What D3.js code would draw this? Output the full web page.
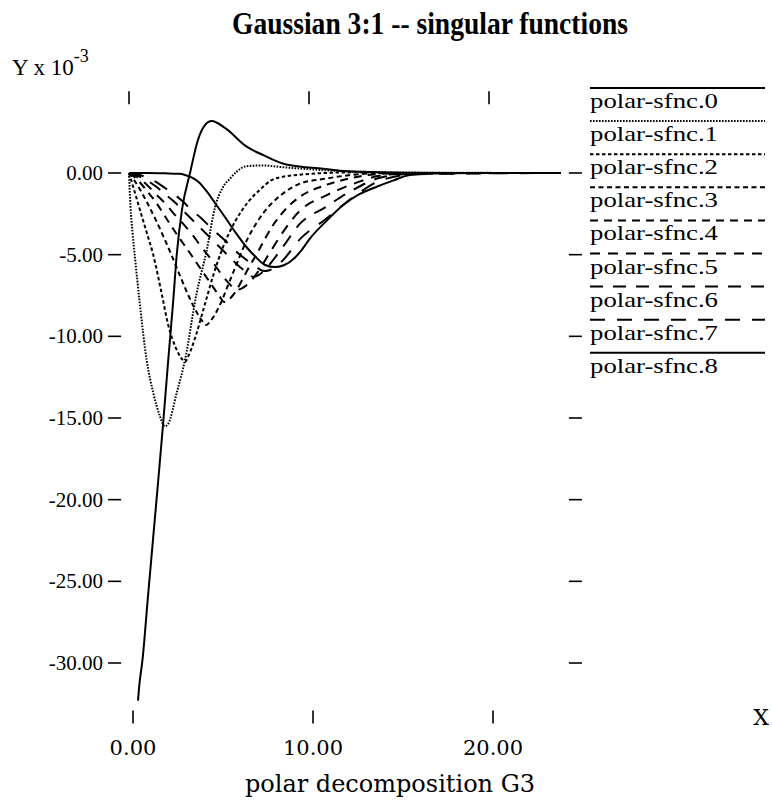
<!DOCTYPE html>
<html lang="en">
<head>
<meta charset="UTF-8">
<title>Gaussian 3:1 -- singular functions</title>
<style>
  body { margin: 0; background: #ffffff; }
  svg { display: block; }
  .curve { fill: none; stroke: #000; stroke-width: 2px; }
  .tick { stroke: #000; stroke-width: 1.6px; }
  .serif { font-family: 'Liberation Serif', 'Times New Roman', serif; fill: #000; }
  .cm { font-family: 'DejaVu Serif', serif; fill: #000; }
</style>
</head>
<body>
<script src="https://d3js.org/d3.v7.min.js"></script>
<script>
// tick values and labels
const xTicks = [0, 10, 20];
const xTickLabels = ["0.00", "10.00", "20.00"];
const yTicks = [0, -5, -10, -15, -20, -25, -30];
const yTickLabels = ["0.00", "-5.00", "-10.00", "-15.00", "-20.00", "-25.00", "-30.00"];

// series names (legend order)
const seriesNames = ["polar-sfnc.0", "polar-sfnc.1", "polar-sfnc.2", "polar-sfnc.3",
  "polar-sfnc.4", "polar-sfnc.5", "polar-sfnc.6", "polar-sfnc.7", "polar-sfnc.8"];

// values (Y in units of 1e-3)
const x0 = [0.5, 0.56, 0.76, 1.04, 1.53, 1.88, 2.18, 2.46, 2.65, 2.94, 3.39, 3.83, 4.2, 4.59, 5.33, 6.54, 7.56, 8.5, 9.67, 10.9, 11.72, 13, 15, 18, 24];
const y0 = [-32.3, -31.5, -29.7, -26.1, -20.0, -15.55, -11.45, -7.78, -5.02, -2.27, 0, 2.02, 2.9, 3.18, 2.76, 1.61, 1.05, 0.6, 0.37, 0.25, 0.14, 0.07, 0.02, 0, 0];

const x1 = [0, 0.08, 0.2, 0.33, 0.6, 0.98, 1.35, 1.72, 1.93, 2.0, 2.18, 2.65, 3.11, 3.76, 4.32, 4.78, 5.2, 5.61, 6.0, 6.54, 7.4, 8.5, 9.67, 10.9, 12.5, 15, 24];
const y1 = [0, -2.0, -3.7, -5.14, -8.0, -11.45, -13.47, -14.9, -15.45, -15.5, -15.35, -13.47, -11.45, -7.35, -4.72, -2.1, -0.9, -0.35, 0.1, 0.42, 0.46, 0.36, 0.26, 0.17, 0.09, 0.03, 0];

const x2 = [0, 0.3, 0.7, 1.0, 1.35, 1.8, 2.18, 2.6, 2.95, 3.11, 3.3, 3.7, 4.2, 4.7, 5.2, 5.89, 6.6, 7.3, 7.93, 8.7, 9.5, 10.9, 12.5, 14, 17, 24];
const y2 = [0, -1.1, -2.6, -3.7, -5.02, -7.3, -9.31, -10.7, -11.4, -11.56, -11.2, -10.0, -8.1, -6.2, -4.6, -2.98, -1.8, -1.0, -0.43, -0.2, -0.1, 0, 0.04, 0.02, 0, 0];

const x3 = [0, 0.5, 1.0, 1.5, 2.0, 2.37, 2.8, 3.3, 3.8, 4.1, 4.3, 4.5, 5.0, 5.6, 6.6, 7.5, 8.5, 9.5, 10.9, 12.5, 14, 17, 24];
const y3 = [0, -0.8, -1.8, -2.9, -4.1, -5.05, -6.2, -7.5, -8.6, -9.1, -9.3, -9.1, -8.2, -6.6, -4.0, -2.4, -1.3, -0.65, -0.35, -0.1, 0, 0, 0];

const x4 = [0, 0.5, 1.0, 1.5, 2.0, 2.5, 3.0, 3.48, 4.0, 4.5, 5.0, 5.3, 5.8, 6.5, 7.17, 8.0, 8.8, 9.5, 10.9, 12.5, 14, 17, 24];
const y4 = [0, -0.45, -1.1, -1.8, -2.65, -3.5, -4.3, -5.05, -5.9, -6.7, -7.5, -7.9, -7.45, -6.1, -4.8, -3.2, -2.1, -1.45, -0.75, -0.28, -0.05, 0, 0];

const x5 = [0, 0.5, 1.0, 1.5, 2.0, 2.5, 3.0, 3.5, 4.0, 4.5, 5.0, 5.5, 6.0, 6.3, 7.0, 7.73, 8.5, 9.5, 10.9, 12.5, 14, 16, 24];
const y5 = [0, -0.28, -0.73, -1.3, -1.85, -2.5, -3.1, -3.75, -4.5, -5.2, -6.0, -6.7, -7.15, -7.05, -6.3, -5.05, -3.7, -2.3, -1.4, -0.65, -0.15, 0, 0];

const x6 = [0, 0.5, 1.0, 1.5, 2.0, 2.5, 3.0, 3.5, 4.0, 4.5, 5.0, 5.5, 6.0, 6.5, 6.9, 7.2, 7.73, 8.5, 9.5, 10.9, 12.5, 14, 16, 24];
const y6 = [0, -0.18, -0.46, -0.83, -1.3, -1.75, -2.3, -2.85, -3.4, -3.95, -4.5, -5.05, -5.6, -6.05, -6.35, -6.25, -5.7, -4.6, -3.1, -2.1, -1.0, -0.28, -0.03, 0];

const x7 = [0, 0.5, 1.0, 1.5, 2.0, 2.5, 3.0, 3.5, 4.0, 4.5, 5.0, 5.5, 6.0, 6.5, 7.0, 7.5, 7.8, 8.5, 9.5, 10.9, 12.5, 14, 16, 24];
const y7 = [0, -0.09, -0.28, -0.55, -0.92, -1.3, -1.75, -2.3, -2.75, -3.3, -3.8, -4.3, -4.85, -5.3, -5.7, -6.0, -5.95, -5.4, -4.05, -2.85, -1.45, -0.45, -0.07, 0];

const x8 = [0, 1, 2, 2.8, 3.11, 3.5, 3.85, 4.3, 4.78, 5.3, 5.89, 6.5, 7.0, 7.56, 8.11, 8.6, 9.2, 9.6, 10.06, 11.0, 11.9, 12.8, 13.76, 14.7, 15.6, 17, 19, 24];
const y8 = [0, 0, -0.02, -0.05, -0.12, -0.28, -0.53, -1.1, -1.84, -2.65, -3.6, -4.5, -5.1, -5.63, -5.76, -5.65, -5.2, -4.7, -4.0, -2.9, -1.96, -1.3, -0.84, -0.45, -0.12, -0.03, 0, 0];

const seriesX = [x0, x1, x2, x3, x4, x5, x6, x7, x8];
const seriesY = [y0, y1, y2, y3, y4, y5, y6, y7, y8];

// line styles, one per series
const dashes = ["none", "1.6,1.4", "3.5,2.5", "5,3.5", "8,6", "10,8", "13,10", "15,12", "none"];

const width = 772, height = 801;
const svg = d3.select("body").append("svg")
  .attr("width", width).attr("height", height);

const x = d3.scaleLinear().domain([0, 20]).range([129, 489]);
const y = d3.scaleLinear().domain([0, -30]).range([173, 663]);

// frame limits where the ticks sit
const frameLeft = x(-0.8), frameRight = x(24.8);
const frameTop = y(4.6), frameBottom = y(-33.3);
const tl = 6.5;

// title
svg.append("text").attr("class", "serif")
  .attr("x", 430).attr("y", 34)
  .attr("text-anchor", "middle")
  .attr("font-size", 31).attr("font-weight", "bold")
  .attr("textLength", 396).attr("lengthAdjust", "spacingAndGlyphs")
  .text("Gaussian 3:1 -- singular functions");

// y axis label
const yl = svg.append("text").attr("class", "serif")
  .attr("x", 12).attr("y", 75).attr("font-size", 23);
yl.append("tspan").text("Y x 10");
yl.append("tspan").attr("dy", -13).attr("font-size", 18).text("-3");

// left and right ticks
svg.selectAll(".ytl").data(yTicks).enter().append("line")
  .attr("class", "tick")
  .attr("x1", frameLeft - tl).attr("x2", frameLeft + tl)
  .attr("y1", d => y(d)).attr("y2", d => y(d));
svg.selectAll(".ytr").data(yTicks).enter().append("line")
  .attr("class", "tick")
  .attr("x1", frameRight - tl).attr("x2", frameRight + tl)
  .attr("y1", d => y(d)).attr("y2", d => y(d));
svg.selectAll(".ylab").data(yTicks).enter().append("text")
  .attr("class", "serif")
  .attr("x", frameLeft - tl - 5).attr("y", d => y(d) + 7)
  .attr("text-anchor", "end").attr("font-size", 21)
  .text((d, i) => yTickLabels[i]);

// top and bottom ticks
svg.selectAll(".xtt").data(xTicks).enter().append("line")
  .attr("class", "tick")
  .attr("x1", d => x(d)).attr("x2", d => x(d))
  .attr("y1", frameTop - tl).attr("y2", frameTop + tl);
svg.selectAll(".xtb").data(xTicks).enter().append("line")
  .attr("class", "tick")
  .attr("x1", d => x(d) + 4).attr("x2", d => x(d) + 4)
  .attr("y1", frameBottom - tl).attr("y2", frameBottom + tl);
svg.selectAll(".xlab").data(xTicks).enter().append("text")
  .attr("class", "cm")
  .attr("x", d => x(d) + 4).attr("y", frameBottom + 38)
  .attr("text-anchor", "middle").attr("font-size", 21)
  .text((d, i) => xTickLabels[i]);

svg.append("text").attr("class", "cm")
  .attr("x", 761).attr("y", frameBottom + 8)
  .attr("text-anchor", "middle").attr("font-size", 22)
  .text("X");

svg.append("text").attr("class", "cm")
  .attr("x", 390).attr("y", 792)
  .attr("text-anchor", "middle").attr("font-size", 24)
  .text("polar decomposition G3");

// curves
const line = d3.line()
  .x(d => x(d[0])).y(d => y(d[1]))
  .curve(d3.curveMonotoneX);

seriesX.forEach((xs, k) => {
  const pts = xs.map((v, i) => [v, seriesY[k][i]]);
  svg.append("path").attr("class", "curve")
    .attr("d", line(pts))
    .attr("stroke-dasharray", dashes[k]);
});

// legend
const legX1 = 590, legX2 = 765, legY0 = 88, legStep = 33.1;
seriesNames.forEach((name, k) => {
  const ly = legY0 + k * legStep;
  svg.append("line").attr("class", "curve")
    .attr("x1", legX1).attr("x2", legX2)
    .attr("y1", ly).attr("y2", ly)
    .attr("stroke-dasharray", dashes[k]);
  svg.append("text").attr("class", "serif")
    .attr("x", legX1).attr("y", ly + 20)
    .attr("font-size", 22)
    .attr("textLength", 128).attr("lengthAdjust", "spacingAndGlyphs")
    .text(name);
});
</script>
</body>
</html>
